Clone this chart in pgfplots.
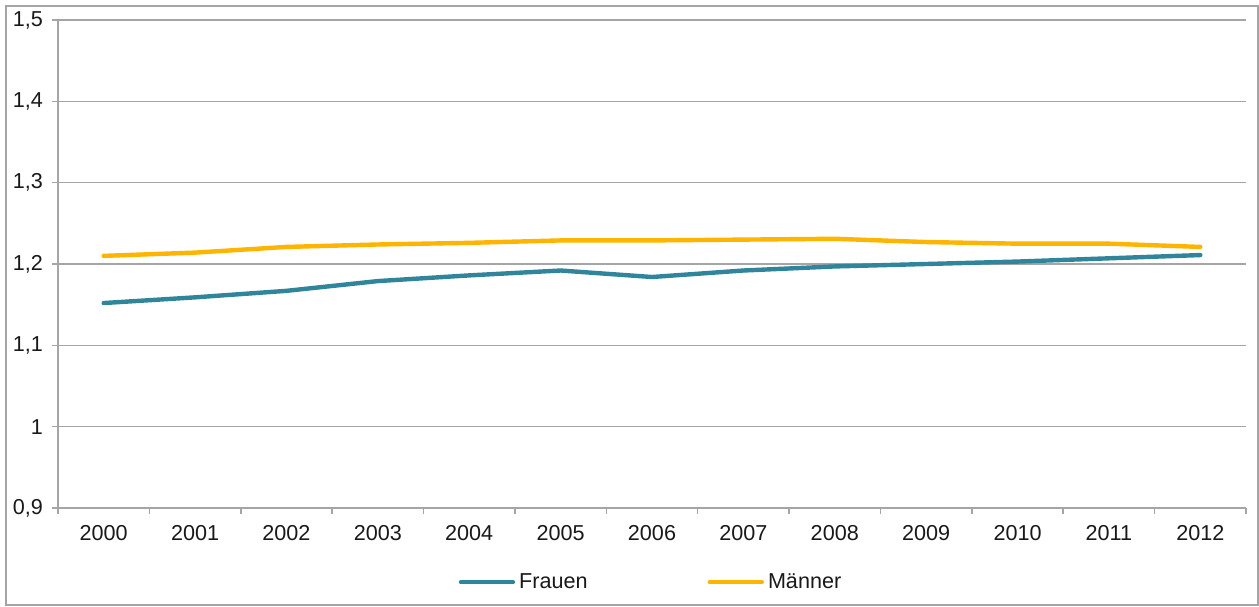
\documentclass[border=0pt]{standalone}
\usepackage{pgfplots}
\pgfplotsset{compat=1.18}
\usepackage{fontspec}
\setmainfont{Liberation Sans}
\definecolor{frauen}{RGB}{49,133,155}
\definecolor{maenner}{RGB}{255,180,0}
\definecolor{gridgray}{RGB}{165,165,165}
\begin{document}
\begin{tikzpicture}
\begin{axis}[
    width=594pt, height=244pt, scale only axis,
    xmin=-0.5, xmax=12.5, ymin=0.9, ymax=1.5,
    axis x line*=bottom, axis y line*=left,
    axis line style={gridgray, line width=0.8pt},
    tick align=outside,
    major tick length=3pt, minor tick length=3pt,
    xtick={0,...,12},
    xticklabels={2000,2001,2002,2003,2004,2005,2006,2007,2008,2009,2010,2011,2012},
    major x tick style={draw=none},
    minor xtick={-0.5,0.5,...,12.5},
    minor x tick style={gridgray, line width=0.8pt},
    ytick={0.9,1,1.1,1.2,1.3,1.4,1.5},
    major y tick style={gridgray, line width=0.8pt},
    ymajorgrids,
    major grid style={gridgray, line width=0.7pt},
    /pgf/number format/.cd, use comma, fixed, precision=1, assume math mode=true,
    /pgfplots/.cd,
    tick label style={font=\fontsize{10.8}{12}\selectfont, text=black!90},
    yticklabel style={xshift=-1pt},
    xticklabel style={yshift=-2pt},
    legend columns=2,
    legend style={at={(axis description cs:0.5,-0.152)}, anchor=center, draw=none,
        font=\fontsize{10.8}{12}\selectfont, text=black!90,
        /tikz/every even column/.append style={column sep=58pt},
        inner sep=0pt},
    legend image code/.code={\draw[#1] (0pt,0pt) -- (26pt,0pt);},
    legend cell align=left,
]
\addplot[frauen, line width=2.2pt, line cap=round] coordinates {
    (0,1.152) (1,1.159) (2,1.167) (3,1.179) (4,1.186) (5,1.192) (6,1.184)
    (7,1.192) (8,1.197) (9,1.200) (10,1.203) (11,1.207) (12,1.211)
};
\addlegendentry{Frauen}
\addplot[maenner, line width=2.2pt, line cap=round] coordinates {
    (0,1.210) (1,1.214) (2,1.221) (3,1.224) (4,1.226) (5,1.229) (6,1.229)
    (7,1.230) (8,1.231) (9,1.227) (10,1.225) (11,1.225) (12,1.221)
};
\addlegendentry{Männer}
\coordinate (ll) at (rel axis cs:0,0);
\coordinate (ur) at (rel axis cs:1,1);
\end{axis}
\draw[gridgray, line width=0.7pt] ([xshift=-26pt,yshift=-48.5pt]ll) rectangle ([xshift=6pt,yshift=7pt]ur);
\pgfresetboundingbox
\path[use as bounding box] ([xshift=-29pt,yshift=-49pt]ll) rectangle ([xshift=6.5pt,yshift=10pt]ur);
\end{tikzpicture}
\end{document}
